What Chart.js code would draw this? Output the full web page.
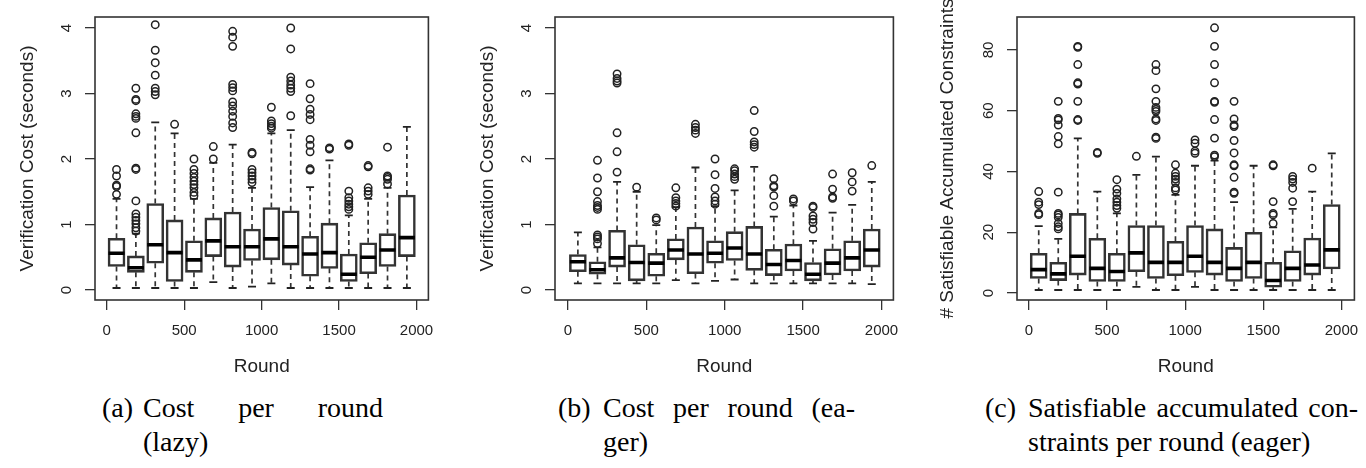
<!DOCTYPE html>
<html>
<head>
<meta charset="utf-8">
<script src="https://cdn.jsdelivr.net/npm/chart.js@4.4.0/dist/chart.umd.min.js"></script>
<style>
  body { margin: 0; background: #fff; }
  #page { position: relative; width: 1366px; height: 468px; overflow: hidden; }
  canvas { position: absolute; top: 0; }
  .cap { position: absolute; top: 391px; font-family: 'Liberation Serif', 'Times New Roman', serif; font-size: 28px; line-height: 34px; color: #000; white-space: nowrap; }
  .just { display: flex; justify-content: space-between; }
</style>
</head>
<body>
<div id="page">
  <canvas id="chartLazy" width="440" height="385" style="left:0px"></canvas>
  <canvas id="chartEager" width="445" height="385" style="left:460px"></canvas>
  <canvas id="chartSat" width="446" height="385" style="left:920px"></canvas>

  <div class="cap" style="left:102px">(a)</div>
  <div class="cap" style="left:143px;width:240px">
    <div class="just"><span>Cost</span><span>per</span><span>round</span></div>
    <div>(lazy)</div>
  </div>

  <div class="cap" style="left:558px">(b)</div>
  <div class="cap" style="left:603px;width:252px">
    <div class="just"><span>Cost</span><span>per</span><span>round</span><span>(ea-</span></div>
    <div>ger)</div>
  </div>

  <div class="cap" style="left:985px">(c)</div>
  <div class="cap" style="left:1028px;width:330px">
    <div class="just"><span>Satisfiable</span><span>accumulated</span><span>con-</span></div>
    <div>straints per round (eager)</div>
  </div>
</div>

<script>
// posisi box (tengah tiap kelompok round)
const rounds = [63, 188, 313, 438, 563, 688, 813, 938, 1063, 1188, 1313, 1438, 1563, 1688, 1813, 1938];
const roundTicks = [0, 500, 1000, 1500, 2000];
const costTicks = [0, 1, 2, 3, 4];
const satTicks = [0, 20, 40, 60, 80];

// (a) cost per round, lazy
const lazyLow  = [0.03, 0.03, 0.03, 0.03, 0.03, 0.12, 0.03, 0.05, 0.10, 0.03, 0.03, 0.03, 0.03, 0.03, 0.03, 0.03];
const lazyQ1   = [0.36, 0.27, 0.41, 0.13, 0.27, 0.51, 0.35, 0.45, 0.46, 0.38, 0.21, 0.33, 0.13, 0.25, 0.36, 0.51];
const lazyMed  = [0.56, 0.34, 0.69, 0.57, 0.46, 0.75, 0.66, 0.66, 0.78, 0.66, 0.55, 0.57, 0.24, 0.50, 0.61, 0.80];
const lazyQ3   = [0.79, 0.52, 1.32, 1.07, 0.75, 1.10, 1.19, 0.93, 1.26, 1.21, 0.82, 1.02, 0.55, 0.72, 0.86, 1.45];
const lazyHigh = [1.39, 0.86, 2.56, 2.39, 1.39, 1.94, 2.22, 1.56, 2.39, 2.44, 1.57, 1.98, 1.14, 1.39, 1.56, 2.49];
const lazyOut = [
  [1.84, 1.74, 1.60, 1.58, 1.46],
  [3.08, 2.91, 2.89, 2.69, 2.65, 2.62, 2.40, 1.86, 1.84, 1.36, 1.16, 1.11, 1.06, 1.01, 0.95, 0.90],
  [4.05, 3.66, 3.47, 3.28, 3.08, 3.03, 2.98],
  [2.53],
  [2.00, 1.84, 1.78, 1.72, 1.66, 1.61, 1.56, 1.49, 1.44],
  [2.19, 2.00],
  [3.95, 3.86, 3.72, 3.14, 3.09, 3.04, 2.87, 2.81, 2.73, 2.65, 2.55, 2.48],
  [2.10, 2.08, 1.84, 1.79, 1.74, 1.69, 1.64],
  [2.79, 2.58, 2.54, 2.50, 2.47],
  [4.00, 3.68, 3.25, 3.19, 3.13, 3.08, 3.03, 2.66],
  [3.15, 2.92, 2.76, 2.68, 2.60, 2.30, 2.21, 2.11, 1.85, 1.83],
  [2.17, 2.15],
  [2.23, 2.21, 1.51, 1.41, 1.36, 1.31, 1.27, 1.23],
  [1.90, 1.88, 1.56, 1.51, 1.46],
  [2.18, 1.74, 1.72, 1.69, 1.62],
  []
];

// (b) cost per round, eager
const eagerLow  = [0.10, 0.10, 0.10, 0.10, 0.10, 0.15, 0.10, 0.14, 0.16, 0.10, 0.10, 0.10, 0.10, 0.10, 0.10, 0.09];
const eagerQ1   = [0.28, 0.24, 0.35, 0.14, 0.21, 0.46, 0.25, 0.41, 0.45, 0.30, 0.22, 0.29, 0.14, 0.23, 0.29, 0.35];
const eagerMed  = [0.43, 0.31, 0.49, 0.42, 0.41, 0.61, 0.55, 0.56, 0.64, 0.55, 0.39, 0.45, 0.24, 0.41, 0.49, 0.61];
const eagerQ3   = [0.54, 0.43, 0.91, 0.69, 0.56, 0.78, 0.96, 0.75, 0.89, 0.97, 0.62, 0.70, 0.42, 0.63, 0.75, 0.93];
const eagerHigh = [0.88, 0.65, 1.65, 1.50, 0.99, 1.26, 1.87, 1.28, 1.52, 1.88, 1.12, 1.29, 0.75, 1.18, 1.30, 1.65];
const eagerOut = [
  [],
  [1.98, 1.71, 1.50, 1.35, 1.29, 1.26, 1.23, 0.84, 0.81, 0.78, 0.71],
  [3.30, 3.23, 3.19, 3.16, 2.40, 2.11, 1.80],
  [1.57],
  [1.10, 1.07],
  [1.56, 1.41, 1.36, 1.32, 1.28],
  [2.53, 2.48, 2.44, 2.39],
  [2.00, 1.76, 1.55, 1.42, 1.36, 1.31],
  [1.85, 1.82, 1.77, 1.73, 1.69],
  [2.74, 2.42, 2.26, 2.22, 2.18],
  [1.70, 1.59, 1.57, 1.44, 1.28],
  [1.39, 1.36],
  [1.28, 1.26, 1.13, 1.08, 1.03, 0.93],
  [1.77, 1.54, 1.42, 1.40],
  [1.79, 1.65, 1.51],
  [1.90]
];

// (c) satisfiable accumulated constraints, eager
const satLow  = [1, 1, 1, 1, 1, 2, 1, 1, 2, 1, 1, 1, 1, 1, 1, 1];
const satQ1   = [4.8, 4.1, 5.9, 3.8, 3.8, 7.0, 4.8, 5.7, 6.8, 5.9, 3.8, 4.8, 1.9, 3.8, 5.9, 7.9];
const satMed  = [7.7, 6.3, 12.1, 8.1, 7.1, 13.2, 10.1, 10.1, 12.1, 10.1, 8.1, 10.1, 4.1, 8.1, 9.2, 14.2];
const satQ3   = [13.1, 10.1, 26.2, 18.0, 13.1, 22.2, 22.2, 17.0, 22.2, 21.1, 15.0, 20.0, 10.1, 13.9, 18.1, 29.1];
const satHigh = [22.0, 17.8, 50.9, 33.4, 26.2, 38.9, 44.9, 32.3, 41.9, 43.6, 29.9, 41.9, 21.6, 27.7, 33.4, 46.0];
const satOut = [
  [33.4, 29.9, 29.1, 26.2, 25.8],
  [63.1, 57.5, 57.0, 55.3, 51.5, 49.1, 33.2, 26.2, 25.7, 24.9, 22.9, 21.8, 21.1],
  [81.2, 80.9, 75.2, 69.2, 68.8, 63.1, 57.1, 56.8],
  [46.3, 46.0],
  [37.3, 34.2, 32.8, 31.0, 29.9, 28.8, 27.9],
  [45.0],
  [75.2, 73.2, 67.2, 63.1, 61.1, 60.4, 59.8, 57.3, 56.8, 51.3, 50.9],
  [42.2, 39.4, 38.4, 37.5, 36.4, 34.6, 33.9],
  [50.4, 49.3, 46.7, 46.0],
  [87.3, 81.2, 75.2, 69.2, 63.1, 62.8, 57.1, 51.0, 45.4, 44.9],
  [63.1, 57.3, 55.3, 54.8, 50.2, 46.1, 42.2, 41.9, 38.1, 33.2, 32.8],
  [],
  [42.2, 41.9, 30.1, 26.2, 25.7, 22.9],
  [38.4, 37.5, 36.4, 34.5, 30.1],
  [41.1],
  []
];

Chart.defaults.font.family = "'Liberation Sans', Arial, sans-serif";
Chart.defaults.color = '#222';

// bingkai plot + judul sumbu y (tanpa dipadatkan maxWidth)
const frameAndTitle = {
  id: 'frameAndTitle',
  afterDraw(chart, args, opts) {
    const { ctx, chartArea: a } = chart;
    ctx.save();
    ctx.strokeStyle = '#333';
    ctx.lineWidth = 1.6;
    ctx.strokeRect(a.left, a.top, a.right - a.left, a.bottom - a.top);
    ctx.fillStyle = '#222';
    ctx.font = "19px 'Liberation Sans', Arial, sans-serif";
    ctx.textAlign = 'center';
    ctx.textBaseline = 'middle';
    ctx.translate(opts.x, (a.top + a.bottom) / 2);
    ctx.rotate(-Math.PI / 2);
    ctx.fillText(opts.text, 0, 0);
    ctx.restore();
  }
};

// padding label jangan menggeser area plot
function noScalePadding(scale) {
  scale.paddingLeft = 0;
  scale.paddingRight = 0;
  scale.paddingTop = 0;
  scale.paddingBottom = 0;
}

function boxPlot(canvasId, s) {
  const ctx = document.getElementById(canvasId);
  if (!ctx) return;

  const boxes = rounds.map((r, i) => ({ x: r, y: [s.q1[i], s.q3[i]] }));
  const medians = rounds.map((r, i) => ({ x: r, y: s.med[i] }));
  const whiskers = [];
  const caps = [];
  const dots = [];
  rounds.forEach((r, i) => {
    whiskers.push({ x: r, y: s.q3[i] }, { x: r, y: s.high[i] }, { x: r, y: null },
                  { x: r, y: s.q1[i] }, { x: r, y: s.low[i] }, { x: r, y: null });
    caps.push({ x: r, y: s.low[i] }, { x: r, y: s.high[i] });
    s.out[i].forEach(v => dots.push({ x: r, y: v }));
  });

  new Chart(ctx, {
    type: 'bar',
    data: {
      datasets: [
        { type: 'scatter', data: medians, pointStyle: 'line', pointRadius: 8, borderWidth: 3.6, borderColor: '#000' },
        { type: 'scatter', data: dots, pointStyle: 'circle', pointRadius: 3.7, borderWidth: 1.5,
          borderColor: '#222', backgroundColor: 'rgba(0,0,0,0)' },
        { type: 'scatter', data: caps, pointStyle: 'line', pointRadius: 4, borderWidth: 1.8, borderColor: '#222' },
        { type: 'line', data: whiskers, borderColor: '#333', borderWidth: 1.7, borderDash: [5, 4],
          pointRadius: 0, spanGaps: false, fill: false },
        { type: 'bar', data: boxes, backgroundColor: 'rgba(0,0,0,0)', borderColor: '#333',
          borderWidth: 1.9, borderSkipped: false, barThickness: 17 }
      ]
    },
    options: {
      responsive: false,
      animation: false,
      events: [],
      layout: { padding: { left: 0, right: s.padRight, top: 17, bottom: 0 } },
      plugins: {
        legend: { display: false },
        tooltip: { enabled: false },
        frameAndTitle: { text: s.yTitle, x: 28 }
      },
      scales: {
        x: {
          type: 'linear',
          min: s.xMin,
          max: s.xMax,
          offset: false,
          afterBuildTicks: (scale) => { scale.ticks = roundTicks.map(v => ({ value: v })); },
          afterFit: (scale) => { scale.height = 85; noScalePadding(scale); },
          grid: { offset: false, drawOnChartArea: false, drawTicks: true, tickLength: 10, color: '#333', lineWidth: 1.3 },
          border: { display: false },
          ticks: { font: { size: 15 }, padding: 12, maxRotation: 0, callback: v => String(v) },
          title: { display: true, text: 'Round', font: { size: 19 }, padding: { top: 0, bottom: 7 } }
        },
        y: {
          type: 'linear',
          min: s.yMin,
          max: s.yMax,
          afterBuildTicks: (scale) => { scale.ticks = s.yTicks.map(v => ({ value: v })); },
          afterFit: (scale) => { scale.width = s.yWidth; noScalePadding(scale); },
          grid: { drawOnChartArea: false, drawTicks: true, tickLength: 10, color: '#333', lineWidth: 1.3 },
          border: { display: false },
          ticks: { font: { size: 15 }, minRotation: 90, maxRotation: 90, crossAlign: 'center',
                   padding: s.yPad, callback: v => String(v) }
        }
      }
    },
    plugins: [frameAndTitle]
  });
}

document.addEventListener("DOMContentLoaded", () => {
  // Grafik (a)
  boxPlot('chartLazy', {
    low: lazyLow, q1: lazyQ1, med: lazyMed, q3: lazyQ3, high: lazyHigh, out: lazyOut,
    xMin: -76, xMax: 2077, yMin: -0.153, yMax: 4.168, yTicks: costTicks,
    yTitle: 'Verification Cost (seconds)', yWidth: 95, yPad: 14, padRight: 7
  });

  // Grafik (b)
  boxPlot('chartEager', {
    low: eagerLow, q1: eagerQ1, med: eagerMed, q3: eagerQ3, high: eagerHigh, out: eagerOut,
    xMin: -83, xMax: 2076, yMin: -0.153, yMax: 4.168, yTicks: costTicks,
    yTitle: 'Verification Cost (seconds)', yWidth: 95, yPad: 14, padRight: 10
  });

  // Grafik (c)
  boxPlot('chartSat', {
    low: satLow, q1: satQ1, med: satMed, q3: satQ3, high: satHigh, out: satOut,
    xMin: -76, xMax: 2083, yMin: -2.3, yMax: 90.86, yTicks: satTicks,
    yTitle: '# Satisfiable Accumulated Constraints', yWidth: 97, yPad: 10, padRight: 9
  });
});
</script>
</body>
</html>
